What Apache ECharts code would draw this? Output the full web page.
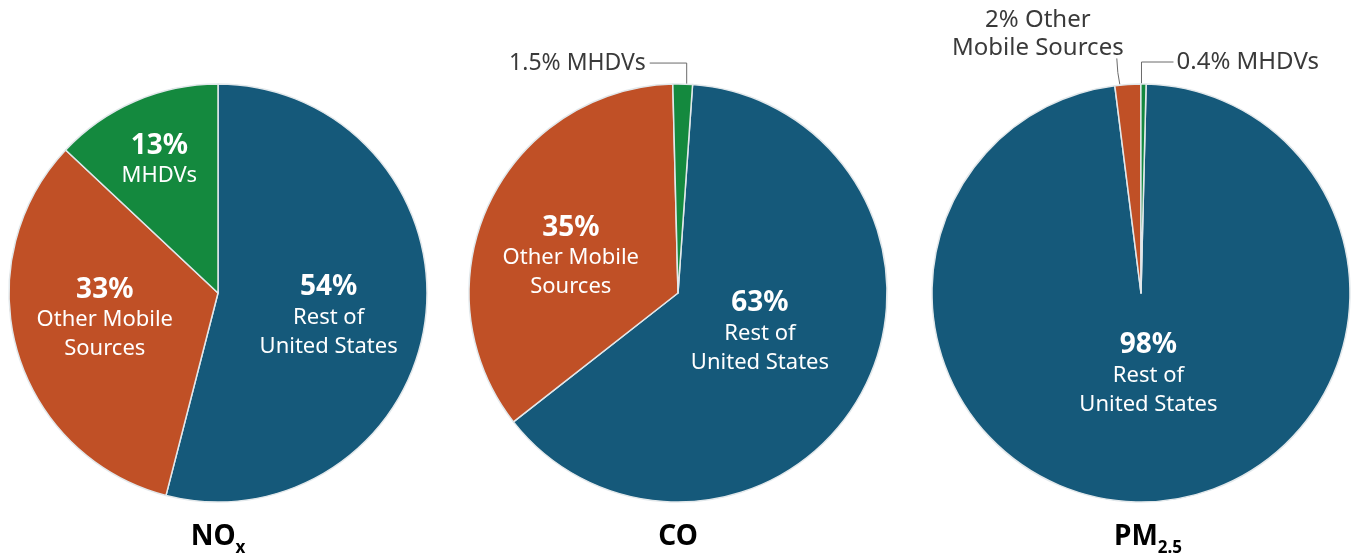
<!DOCTYPE html>
<html>
<head>
<meta charset="utf-8">
<script src="https://cdn.jsdelivr.net/npm/echarts@6/dist/echarts.min.js"></script>
<style>
  html, body { margin: 0; background: #fff; }
  #chart { width: 1353px; height: 558px; }
</style>
</head>
<body>
<div id="chart"></div>
<script>
// slices, in clockwise order
const sliceNames = ['Rest of United States', 'Other Mobile Sources', 'MHDVs']
const insideNames = ['Rest of\nUnited States', 'Other Mobile\nSources', 'MHDVs']
const noxShare = [54, 33, 13]
const coShare = [63, 35, 1.5]
const pmShare = [98, 2, 0.4]
const sliceColors = ['#15597a', '#c05026', '#14893e']

const font = 'Noto Sans'

// nudges for labels (inside: dx/dy; outside: leader direction)
const labelMoves = [
  [{ dx: 4, dy: 10 }, { dx: -10, dy: -4 }, { dx: -16, dy: -34 }],
  [{ dx: -13, dy: -11 }, { dx: -10, dy: 10 }, { lead: 'left', size: 23 }],
  [{ dx: 2, dy: -26 }, { lead: 'up', size: 24 }, { lead: 'right', size: 24 }]
]

const chart = echarts.init(document.getElementById('chart'))

function makeLayout(moves) {
  return function(params) {
    const m = moves[params.dataIndex]
    if (!m.lead) {
      return { dx: m.dx, dy: m.dy }
    }
    const p = params.labelLinePoints
      ? params.labelLinePoints[0]
      : [params.rect.x + params.rect.width / 2, params.rect.y]
    const x = p[0]
    const y = p[1]
    if (m.lead === 'left') {
      return {
        x: x - 37, y: y - 21, align: 'right', verticalAlign: 'middle',
        labelLinePoints: [[x + 4, y], [x + 4, y - 21], [x - 33, y - 21]]
      }
    }
    if (m.lead === 'right') {
      return {
        x: x + 33, y: y - 22, align: 'left', verticalAlign: 'middle',
        labelLinePoints: [[x - 2, y], [x - 2, y - 22], [x + 30, y - 22]]
      }
    }
    // up: two-line label above the slice
    return {
      x: x - 90, y: y - 50, align: 'center', verticalAlign: 'middle',
      labelLinePoints: [[x - 8, y], [x - 10, y - 12], [x - 11, y - 26]]
    }
  }
}

function pieSeries(values, center, startAngle, moves) {
  return {
    type: 'pie',
    center: center,
    radius: 209,
    startAngle: startAngle,
    clockwise: true,
    avoidLabelOverlap: false,
    silent: true,
    itemStyle: {
      borderColor: '#e2e8eb',
      borderWidth: 1.5
    },
    label: {
      position: 'inside',
      color: '#fff',
      fontFamily: font,
      formatter: function(p) {
        return '{p|' + p.value + '%}\n{t|' + insideNames[p.dataIndex] + '}'
      },
      rich: {
        p: { fontSize: 28, fontWeight: 'bold', color: '#fff', fontFamily: font, lineHeight: 31 },
        t: { fontSize: 22, color: '#fff', fontFamily: font, lineHeight: 29 }
      }
    },
    labelLine: { show: false },
    labelLayout: makeLayout(moves),
    data: values.map(function(v, i) {
      const item = { name: sliceNames[i], value: v, itemStyle: { color: sliceColors[i] } }
      if (moves[i].lead) {
        item.label = {
          position: 'outside',
          color: '#3a3a3a',
          fontSize: moves[i].size,
          lineHeight: 28,
          align: 'center',
          formatter: function(p) {
            return p.dataIndex === 1
              ? p.value + '% Other\nMobile Sources'
              : p.value + '% ' + p.name
          }
        }
        item.labelLine = {
          show: true,
          length: 10,
          length2: 10,
          lineStyle: { color: '#6b6b6b', width: 1 }
        }
      }
      return item
    })
  }
}

function titleOf(main, sub, left) {
  return {
    text: '{m|' + main + '}' + (sub ? '{s|' + sub + '}' : ''),
    left: left,
    top: 522,
    padding: 0,
    textAlign: 'center',
    textStyle: {
      rich: {
        m: { fontSize: 28, fontWeight: 'bold', color: '#000', fontFamily: font, lineHeight: 30 },
        s: { fontSize: 17, fontWeight: 'bold', color: '#000', fontFamily: font, lineHeight: 30, padding: [22, 0, 0, 0] }
      }
    }
  }
}

chart.setOption({
  backgroundColor: '#fff',
  animation: false,
  title: [
    titleOf('NO', 'x', 218),
    titleOf('CO', '', 678),
    titleOf('PM', '2.5', 1148)
  ],
  series: [
    pieSeries(noxShare, [218, 293], 90, labelMoves[0]),
    pieSeries(coShare, [678, 293], 86, labelMoves[1]),
    pieSeries(pmShare, [1141, 293], 88.6, labelMoves[2])
  ]
})
</script>
</body>
</html>
